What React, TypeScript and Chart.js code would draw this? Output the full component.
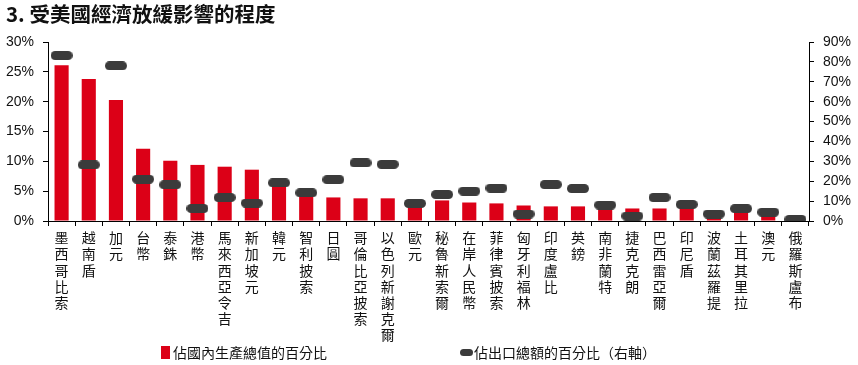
import React, { useEffect, useRef } from "react";
import { Chart, registerables } from "chart.js";

Chart.register(...registerables);

const categories = [
  "墨西哥比索", "越南盾", "加元", "台幣", "泰銖", "港幣", "馬來西亞令吉", "新加坡元",
  "韓元", "智利披索", "日圓", "哥倫比亞披索", "以色列新謝克爾", "歐元", "秘魯新索爾",
  "在岸人民幣", "菲律賓披索", "匈牙利福林", "印度盧比", "英鎊", "南非蘭特", "捷克克朗",
  "巴西雷亞爾", "印尼盾", "波蘭茲羅提", "土耳其里拉", "澳元", "俄羅斯盧布",
];

const gdpShare = [
  26.1, 23.8, 20.3, 12.1, 10.1, 9.4, 9.1, 8.6, 6.3, 4.1, 3.95, 3.8, 3.8, 2.8,
  3.45, 3.1, 2.95, 2.6, 2.45, 2.45, 2.3, 2.1, 2.1, 2.2, 1.6, 1.6, 1.2, 0.2,
];

const exportShare = [
  83.2, 28.2, 78, 21, 18.2, 6.3, 11.8, 9, 19.2, 14.2, 20.8, 29.2, 28.5, 8.8,
  13.3, 15, 16.5, 3.5, 18.3, 16.3, 8, 2.5, 11.8, 8.3, 3.5, 6.2, 4.4, 0.8,
];

const leftTicksMax = 30;
const rightTicksMax = 90;

const TITLE = "3. 受美國經濟放緩影響的程度";
const LEGEND_BAR = "佔國內生產總值的百分比";
const LEGEND_LINE = "佔出口總額的百分比（右軸）";

const RED = "#DC0017";
const DARK = "#3b3b3b";
const CJK = "'Noto Sans CJK TC', 'Noto Sans CJK SC', sans-serif";

function pill(w: number, h: number, color: string) {
  const c = document.createElement("canvas");
  c.width = w;
  c.height = h;
  const ctx = c.getContext("2d")!;
  ctx.fillStyle = color;
  ctx.beginPath();
  const r = h / 2;
  ctx.moveTo(r, 0);
  ctx.lineTo(w - r, 0);
  ctx.arc(w - r, r, r, -Math.PI / 2, Math.PI / 2);
  ctx.lineTo(r, h);
  ctx.arc(r, r, r, Math.PI / 2, (3 * Math.PI) / 2);
  ctx.closePath();
  ctx.fill();
  return c;
}

export default function App() {
  const ref = useRef<HTMLCanvasElement | null>(null);

  useEffect(() => {
    document.body.style.margin = "0";
    if (!ref.current) return;
    const marker = pill(22, 9, DARK);
    const chart = new Chart(ref.current, {
      type: "bar",
      data: {
        labels: categories.map((s) => Array.from(s)),
        datasets: [
          {
            type: "line",
            label: LEGEND_LINE,
            data: exportShare,
            yAxisID: "y1",
            showLine: false,
            pointStyle: marker as any,
            pointRadius: 11,
            backgroundColor: DARK,
            borderColor: DARK,
            order: 0,
          } as any,
          {
            type: "bar",
            label: LEGEND_BAR,
            data: gdpShare,
            yAxisID: "y",
            backgroundColor: RED,
            borderWidth: 0,
            categoryPercentage: 1,
            barPercentage: 0.52,
            order: 1,
          },
        ],
      },
      options: {
        responsive: false,
        animation: false,
        layout: { padding: { top: 42, left: 0, right: 0, bottom: 0 } },
        plugins: {
          legend: { display: false },
          tooltip: { enabled: false },
          title: { display: false },
        },
        scales: {
          x: {
            grid: {
              display: true,
              drawOnChartArea: false,
              drawTicks: true,
              tickLength: 5,
              color: "#000",
              offset: true,
            },
            border: { display: true, color: "#000" },
            ticks: {
              autoSkip: false,
              maxRotation: 0,
              minRotation: 0,
              padding: 4,
              color: "#111",
              font: { family: CJK, size: 14, lineHeight: 1.15 },
            },
            afterFit: (s: any) => {
              s.height = 144;
            },
          },
          y: {
            position: "left",
            min: 0,
            max: leftTicksMax,
            ticks: {
              stepSize: 5,
              padding: 9,
              color: "#111",
              font: { family: "'Liberation Sans', Arial, sans-serif", size: 14 },
              callback: (v: any) => v + "%",
            },
            grid: { drawOnChartArea: false, tickLength: 5, color: "#000" },
            border: { display: true, color: "#000" },
            afterFit: (s: any) => {
              s.width = 48;
            },
          },
          y1: {
            position: "right",
            min: 0,
            max: rightTicksMax,
            ticks: {
              stepSize: 10,
              padding: 9,
              color: "#111",
              font: { family: "'Liberation Sans', Arial, sans-serif", size: 14 },
              callback: (v: any) => v + "%",
            },
            grid: { drawOnChartArea: false, tickLength: 5, color: "#000" },
            border: { display: true, color: "#000" },
            afterFit: (s: any) => {
              s.width = 49;
            },
          },
        },
      },
    } as any);
    return () => chart.destroy();
  }, []);

  return (
    <div style={{ position: "relative", width: 858, height: 365, background: "#fff", overflow: "hidden" }}>
      <canvas ref={ref} width={858} height={365} style={{ position: "absolute", left: 0, top: 0 }} />
      <div
        style={{
          position: "absolute",
          left: 6,
          top: 0,
          fontFamily: CJK,
          fontWeight: 700,
          fontSize: 20.5,
          lineHeight: "27px",
          color: "#111",
          whiteSpace: "nowrap",
        }}
      >
        {TITLE}
      </div>
      <div
        style={{
          position: "absolute",
          left: 161,
          top: 342,
          display: "flex",
          alignItems: "center",
          fontFamily: CJK,
          fontSize: 14,
          lineHeight: "20px",
          color: "#111",
          whiteSpace: "nowrap",
        }}
      >
        <span style={{ display: "inline-block", width: 9, height: 13, background: RED, marginRight: 3 }} />
        {LEGEND_BAR}
      </div>
      <div
        style={{
          position: "absolute",
          left: 460,
          top: 342,
          display: "flex",
          alignItems: "center",
          fontFamily: CJK,
          fontSize: 14,
          lineHeight: "20px",
          color: "#111",
          whiteSpace: "nowrap",
        }}
      >
        <span style={{ display: "inline-block", width: 13, height: 7, borderRadius: 4, background: DARK, marginRight: 1 }} />
        {LEGEND_LINE}
      </div>
    </div>
  );
}
